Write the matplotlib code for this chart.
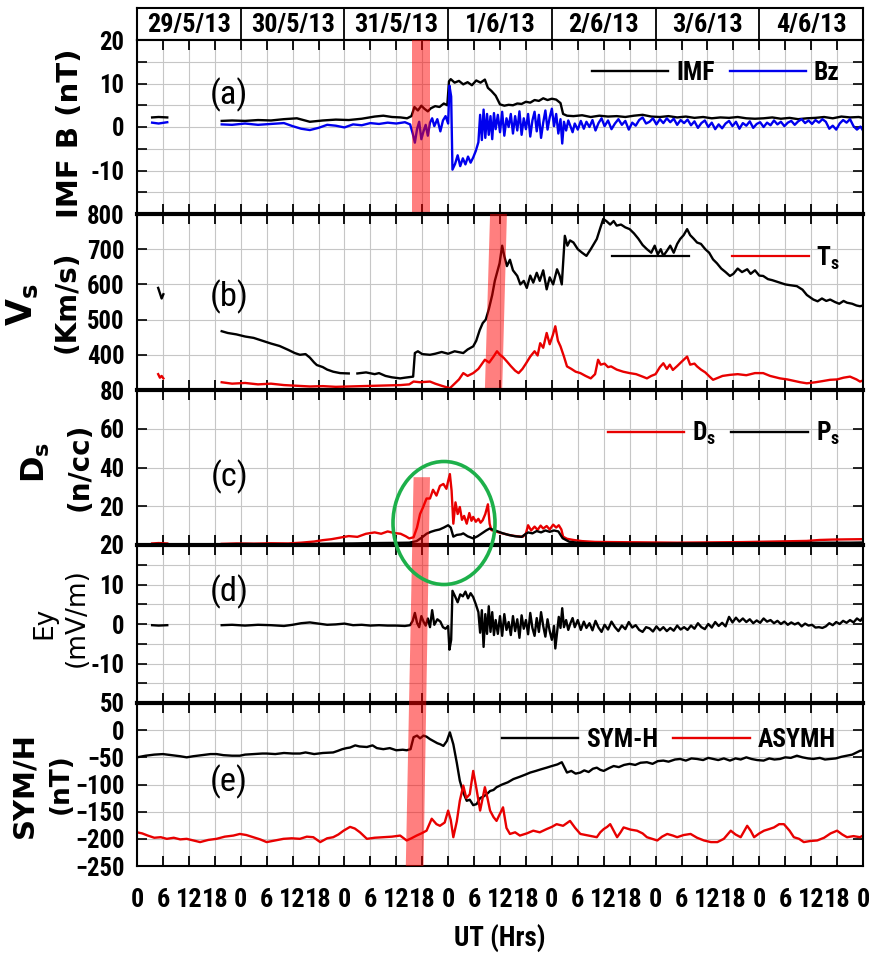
import numpy as np
import matplotlib
matplotlib.use("Agg")
import matplotlib.pyplot as plt
from matplotlib import font_manager as fm
from matplotlib.patches import Polygon, Ellipse
from matplotlib.lines import Line2D

# pick the narrowest sans family that is installed (reference uses a condensed bold face)
_avail = {f.name for f in fm.fontManager.ttflist}
FONT, FS = "DejaVu Sans", 0.85
for cand, k in [("Liberation Sans Narrow", 1.2), ("Roboto Condensed", 1.08), ("Liberation Sans", 1.0)]:
    if cand in _avail:
        FONT, FS = cand, k
        break

plt.rcParams['font.family'] = [FONT, 'DejaVu Sans']
plt.rcParams['font.weight'] = 'bold'
plt.rcParams['mathtext.fontset'] = 'custom'
plt.rcParams['mathtext.rm'] = FONT + ':bold'
plt.rcParams['mathtext.bf'] = FONT + ':bold'
plt.rcParams['mathtext.default'] = 'regular'

nan = np.nan
days = ["29/5/13", "30/5/13", "31/5/13", "1/6/13", "2/6/13", "3/6/13", "4/6/13"]

# ---- (a) IMF |B| and Bz (nT), time in hours from 29/5 00 UT
t_imf = [3.5, 5, 7, 7.1, 19.6, 22, 25, 28, 31, 34, 37, 40, 43, 46, 49, 52, 55, 57, 59, 61, 62.5, 63.5,
         64.2, 65, 65.8, 66.5, 67.3, 68, 69, 70, 71, 71.8, 72.2, 72.6, 73.5, 74.5, 75.5, 76.5, 77.5,
         78.5, 79.5, 80.5, 81.2, 82, 83, 84, 85, 86, 87, 88, 89, 90, 91, 92, 93, 94, 95, 96, 97, 98,
         98.6, 99.5, 101, 103, 105, 107, 109, 111, 113, 115, 117, 119, 121, 123, 125, 127, 129, 131,
         133, 135, 137, 139, 141, 143, 145, 147, 149, 151, 153, 155, 157, 159, 161, 163, 165, 167, 168]
imf = [2.2, 2.3, 2.2, nan, 1.4, 1.5, 1.4, 1.6, 1.5, 1.8, 2.0, 1.2, 1.5, 1.7, 1.6, 1.9, 2.4, 2.6, 2.3, 2.2,
       2.0, 2.5, 4.6, 3.8, 4.9, 4.2, 3.6, 4.3, 4.8, 4.6, 5.4, 5.0, 10.5, 11.0, 10.2, 10.6, 9.8, 10.3,
       9.6, 10.7, 10.2, 10.9, 9.0, 8.3, 7.2, 5.2, 4.9, 5.1, 5.0, 5.4, 5.3, 5.8, 5.6, 6.2, 6.0, 6.6, 6.2,
       6.5, 6.3, 5.5, 3.0, 2.6, 2.5, 2.7, 2.3, 2.6, 2.4, 2.5, 2.3, 2.6, 2.8, 2.4, 2.3, 2.5, 2.2, 2.4,
       2.1, 2.3, 2.0, 2.2, 2.1, 2.3, 2.0, 1.9, 2.0, 2.2, 1.9, 2.1, 1.8, 2.0, 2.1, 2.3, 2.0, 2.4, 2.2,
       2.3, 2.1]
t_bz = [3.5, 5, 7, 7.1, 19.6, 22, 25, 28, 31, 34, 36, 38, 40, 42, 44, 46, 48, 50, 52, 54, 56, 58, 60,
        62, 63.2, 63.8, 64.3, 64.8, 65.3, 65.8, 66.3, 66.8, 67.3, 67.8, 68.3, 68.8, 69.5, 70.2, 70.8,
        71.4, 72, 72.3, 72.7, 73.0, 73.6, 74.2, 74.8, 75.4, 76, 76.6, 77.2, 77.8, 78.4, 79, 79.4, 79.8,
        80.2, 80.6, 81, 81.4, 81.8, 82.2, 82.6, 83, 83.5, 84, 84.5, 85, 85.5, 86, 86.5, 87, 87.5, 88,
        88.5, 89, 89.5, 90, 90.5, 91, 91.5, 92, 92.5, 93, 93.5, 94, 94.5, 95, 95.5, 96, 96.5, 97, 97.5,
        98, 98.4, 98.8, 99.3, 99.8, 100.3, 100.8, 101.3, 102, 102.7, 103.4, 104, 104.7, 105.4, 106.1,
        106.8, 107.5, 108.2, 109, 109.8, 110.6, 111.4, 112.2, 113, 113.8, 114.6, 115.4, 116.2, 117,
        117.8, 118.6, 119.4, 120.2, 121, 121.8, 122.6, 123.4, 124.2, 125, 125.8, 126.6, 127.4, 128.2,
        129, 129.8, 130.6, 131.4, 132.2, 133, 133.8, 134.6, 135.4, 136.2, 137, 137.8, 138.6, 139.4,
        140.2, 141, 141.8, 142.6, 143.4, 144.2, 145, 145.8, 146.6, 147.4, 148.2, 149, 149.8, 150.6,
        151.4, 152.2, 153, 153.8, 154.6, 155.4, 156.2, 157, 157.8, 158.6, 159.4, 160.2, 161, 161.8,
        162.6, 163.4, 164.2, 165, 165.8, 166.6, 167.4, 168]
bz = [1.0, 0.8, 1.1, nan, 0.6, 0.5, 0.8, 0.5, 0.7, 0.9, 0.2, -0.4, -0.7, -0.2, 0.5, 0.3, -0.1, 0.6, 0.4,
      0.9, 0.7, 1.0, 0.8, 1.1, 0.6, -1.5, -3.6, -0.5, 1.2, -2.8, -1.0, 0.5, -2.0, 1.0, 2.0, 0.2, 1.8,
      -1.0, 1.5, 2.5, 0.8, 9.5, 7.0, -9.8, -8.5, -6.5, -9.0, -7.2, -8.6, -6.8, -8.2, -7.0, -5.5, -3.5,
      2.8, -3.0, 4.0, -2.5, 3.0, -1.8, 2.5, -2.8, 3.2, -0.5, 2.8, -1.2, 3.5, -2.0, 2.0, 0.0, 3.0, -1.5,
      2.5, -0.8, 3.6, -1.8, 2.0, -0.5, 3.0, -2.2, 1.5, 3.5, -1.0, 2.8, -2.5, 1.0, 3.8, -0.6, 2.2, 4.2,
      0.2, 3.0, -1.5, 1.8, -3.8, 1.2, -0.8, 1.5, 0.2, -1.2, 0.8, -0.6, 1.4, -0.4, 1.2, 0.0, 1.6, -0.8,
      0.9, 2.0, 0.2, 1.5, -0.5, 0.8, 1.8, 0.5, 1.4, -0.6, 1.0, 0.3, 1.6, 2.2, 0.8, 1.2, 2.0, 0.6, 1.8,
      0.9, 2.0, 1.1, 1.9, 0.5, 1.6, 0.9, 1.7, 0.4, 1.3, -0.2, 0.9, 1.5, 0.0, 1.0, -0.5, 0.6, -0.3, 0.8,
      1.4, 0.2, 1.2, -0.4, 0.9, 0.3, 1.3, -0.2, 0.7, 1.1, 0.0, 1.0, 0.4, 1.5, 0.6, 1.2, 0.2, 1.0, 1.4,
      0.5, 1.3, 1.8, 0.9, 1.5, 0.7, 1.6, 1.0, 1.8, 1.2, -0.4, 0.3, -0.6, 0.8, 1.6, 1.0, 1.8, 0.2, -0.6,
      0.1, -0.8]

# ---- (b) solar wind speed Vs (km/s) and temperature Ts (drawn on the Vs scale)
t_v = [4.9, 5.3, 5.7, 6.1, 6.2, 19.6, 21, 23, 25, 27, 29, 31, 33, 35, 36.5, 37.7, 39, 40, 41, 41.6, 43,
       44, 45.4, 47, 49, 49.5, 51, 53, 55, 56, 57.5, 59, 60.9, 62, 63.9, 64.3, 65, 66, 67.8, 69, 70.5,
       72, 73.5, 75.5, 76.5, 77.8, 78.5, 79.3, 80, 80.7, 81.4, 82.2, 82.8, 83.3, 83.9, 84.5, 85, 85.6,
       86.3, 87, 88, 88.7, 89.5, 90.2, 91, 91.7, 92.5, 93.2, 94, 94.8, 95.5, 96.3, 97.2, 97.8, 98.3, 99,
       99.6, 100.2, 101, 102, 103, 104, 105, 106.4, 107.2, 107.9, 108.6, 109.5, 110.3, 111, 112, 113,
       114, 115, 116, 117, 118, 119, 119.8, 120.5, 121.2, 121.8, 122.6, 123.4, 124.2, 125, 125.7,
       126.5, 127.3, 128, 128.8, 129.6, 130.5, 131.5, 132.4, 133.3, 134.2, 135.2, 136.2, 137.2, 138,
       139, 140, 141.2, 142, 143, 144, 144.9, 146, 147, 148, 148.8, 150, 151, 152.7, 154, 155, 156.5,
       157.5, 158.5, 159.5, 160.4, 161.5, 162.5, 163.5, 164.3, 165.5, 166.5, 167.3, 168]
vs = [590, 575, 560, 572, nan, 467, 462, 458, 452, 448, 440, 432, 425, 414, 405, 400, 402, 392, 378, 371,
      365, 358, 352, 348, 347, nan, 347, 350, 345, 348, 340, 336, 333, 335, 338, 405, 410, 402, 400, 403,
      408, 403, 410, 405, 415, 424, 440, 470, 490, 500, 529, 570, 610, 633, 660, 710, 680, 652, 670, 640,
      624, 600, 610, 590, 625, 605, 633, 610, 640, 586, 620, 600, 643, 625, 600, 738, 710, 725, 719, 700,
      690, 681, 700, 729, 760, 786, 780, 770, 780, 767, 770, 762, 757, 745, 730, 712, 700, 690, 710, 685,
      700, 681, 695, 710, 690, 715, 729, 740, 757, 740, 730, 719, 715, 700, 690, 671, 660, 645, 635, 624,
      630, 645, 635, 643, 630, 640, 625, 624, 615, 612, 608, 605, 600, 598, 595, 585, 570, 557, 552, 560,
      553, 557, 550, 545, 553, 548, 545, 540, 538, 540]
t_ts = [4.9, 5.3, 5.7, 6.1, 6.2, 19.6, 22, 25, 28, 31, 34, 37, 40, 43, 46, 49, 52, 55, 58, 61, 63, 64,
        65.5, 67.8, 69, 70.5, 72.4, 73.5, 74.5, 75.5, 76.5, 77.8, 79, 80.5, 81.5, 82.5, 83.3, 84, 84.8,
        85.6, 86.5, 87.5, 88.3, 89.2, 90, 91, 92, 92.7, 93.3, 94, 94.8, 95.5, 96.2, 96.8, 97.4, 98,
        98.8, 99.5, 100.5, 101.5, 102.6, 103.8, 105, 106, 106.7, 107.3, 108.2, 109, 109.7, 111, 112.5,
        114, 115.5, 117, 118, 119, 120, 121, 121.8, 122.6, 123.3, 124, 125, 126, 127.3, 128, 129, 129.6,
        130.5, 131.5, 132.5, 133.3, 134.5, 135.5, 137.2, 139, 141, 143, 144.9, 146.5, 148.8, 150.5, 152,
        153.5, 155, 157, 158.5, 160.4, 162, 163.5, 165, 166.5, 167.3, 168]
ts = [345, 335, 340, 333, nan, 322, 318, 320, 316, 318, 314, 312, 310, 311, 309, 310, 311, 312, 313, 314,
      316, 324, 322, 324, 318, 312, 305, 318, 330, 348, 340, 348, 360, 386, 378, 395, 410, 400, 392, 381,
      368, 355, 348, 360, 375, 395, 410, 398, 433, 420, 462, 430, 455, 481, 440, 424, 395, 367, 360, 352,
      348, 340, 333, 345, 386, 372, 375, 365, 367, 358, 352, 348, 345, 338, 333, 340, 345, 365, 376, 360,
      372, 357, 368, 380, 395, 372, 375, 367, 358, 350, 338, 329, 335, 340, 343, 345, 342, 348, 348, 340,
      333, 330, 326, 322, 319, 322, 325, 329, 330, 335, 338, 330, 324, 327]

# ---- (c) density Ds (n/cc) and dynamic pressure Ps
t_ds = [3.5, 5, 7, 7.1, 19.6, 23, 27, 31, 35, 38, 41, 43, 45, 47, 49, 51, 53, 55, 56.5, 58, 59.5, 61, 62.2,
        63, 64, 64.8, 65.5, 66.2, 67, 67.8, 68.5, 69.3, 70.1, 70.9, 71.6, 72.0, 72.4, 72.8, 73.2, 73.7,
        74.2, 74.7, 75.2, 75.7, 76.3, 76.9, 77.4, 77.8, 78.4, 79, 79.5, 80, 80.6, 81.2, 81.6, 82, 83, 84,
        85, 86, 87, 88, 89.3, 90, 90.5, 91.2, 92, 92.7, 93.4, 94, 94.8, 95.5, 96.3, 97, 97.6, 98.2, 98.6,
        99.5, 101, 103, 106, 110, 115, 120, 125, 130, 135, 140, 145, 150, 155, 158, 161, 164, 168]
ds = [0.8, 1.0, 0.8, nan, 0.6, 0.8, 0.7, 0.9, 0.8, 1.2, 1.8, 2.5, 3.0, 3.8, 4.6, 4.2, 5.8, 6.5, 5.8, 7.0,
      6.2, 5.8, 4.5, 3.4, 4.0, 9.0, 16.0, 19.5, 24.0, 24.0, 28.5, 25.5, 30.5, 31.5, 29.0, 33.0, 36.6, 28.0,
      11.0, 22.0, 16.0, 19.6, 13.0, 15.0, 11.0, 16.5, 12.5, 14.5, 12.0, 13.5, 11.5, 12.8, 16.0, 21.0, 11.0,
      7.7, 7.0, 6.3, 5.8, 5.2, 4.8, 4.5, 4.3, 6.0, 10.2, 7.5, 9.5, 7.8, 10.0, 8.5, 9.8, 8.0, 10.5, 9.0,
      10.2, 8.0, 4.3, 3.2, 2.6, 2.0, 1.6, 1.5, 1.4, 1.3, 1.2, 1.3, 1.4, 1.5, 1.7, 1.9, 2.1, 2.6, 2.8, 2.9,
      3.0]
t_ps = [3.5, 5, 7, 7.1, 19.6, 25, 30, 35, 40, 45, 50, 55, 60, 63, 64.7, 66, 67, 68, 69, 70, 71, 72, 72.6,
        73.2, 74, 75, 75.5, 76.5, 77.8, 78.8, 79.8, 80.8, 81.6, 82.5, 83.5, 84.7, 86, 87.5, 89, 90.5, 91.5,
        92.5, 93.5, 94.5, 95.5, 96.5, 97.5, 98.5, 100, 102, 105, 110, 115, 120, 125, 130, 135, 140, 145,
        150, 155, 160, 165, 168]
ps = [0.4, 0.5, 0.4, nan, 0.4, 0.5, 0.4, 0.4, 0.5, 0.7, 0.8, 1.0, 1.1, 1.2, 2.0, 4.0, 5.8, 6.8, 7.5, 8.0,
      9.0, 10.2, 9.0, 4.3, 5.2, 5.5, 6.0, 4.5, 3.4, 4.5, 6.0, 7.5, 8.5, 7.8, 7.0, 6.0, 5.2, 4.5, 4.2, 6.5,
      6.0, 7.2, 6.5, 7.5, 6.8, 7.5, 7.0, 3.5, 1.7, 1.2, 0.9, 0.8, 0.7, 0.7, 0.8, 0.8, 0.9, 0.9, 1.0, 1.0,
      1.1, 1.2, 1.2, 1.3]

# ---- (d) interplanetary electric field Ey (mV/m)
t_ey = [3.5, 5, 7, 7.1, 19.6, 22, 25, 28, 31, 34, 36, 38, 40, 42, 44, 46, 48, 50, 52, 54, 56, 58, 60, 62,
        63.2, 63.8, 64.3, 64.8, 65.3, 65.8, 66.3, 66.8, 67.3, 67.8, 68.3, 68.8, 69.5, 70.2, 70.8, 71.4,
        72, 72.3, 72.7, 73.0, 73.6, 74.2, 74.8, 75.4, 76, 76.6, 77.2, 77.8, 78.4, 79, 79.4, 79.8, 80.2,
        80.6, 81, 81.4, 81.8, 82.2, 82.6, 83, 83.5, 84, 84.5, 85, 85.5, 86, 86.5, 87, 87.5, 88, 88.5, 89,
        89.5, 90, 90.5, 91, 91.5, 92, 92.5, 93, 93.5, 94, 94.5, 95, 95.5, 96, 96.5, 96.8, 97.2, 97.6, 98,
        98.4, 98.8, 99.3, 99.8, 100.3, 100.8, 101.3, 102, 102.7, 103.4, 104, 104.7, 105.4, 106.1, 106.8,
        107.5, 108.2, 109, 109.8, 110.6, 111.4, 112.2, 113, 113.8, 114.6, 115.4, 116.2, 117, 117.8,
        118.6, 119.4, 120.2, 121, 121.8, 122.6, 123.4, 124.2, 125, 125.8, 126.6, 127.4, 128.2, 129,
        129.8, 130.6, 131.4, 132.2, 133, 133.8, 134.6, 135.4, 136.2, 137, 137.8, 138.6, 139.4, 140.2,
        141, 141.8, 142.6, 143.4, 144.2, 145, 145.8, 146.6, 147.4, 148.2, 149, 149.8, 150.6, 151.4,
        152.2, 153, 153.8, 154.6, 155.4, 156.2, 157, 157.8, 158.6, 159.4, 160.2, 161, 161.8, 162.6,
        163.4, 164.2, 165, 165.8, 166.6, 167.4, 168]
ey = [-0.3, -0.4, -0.3, nan, -0.3, -0.2, -0.4, -0.2, -0.3, -0.5, -0.2, 0.2, 0.4, 0.1, -0.2, -0.1, 0.1,
      -0.3, -0.2, -0.4, -0.3, -0.4, -0.4, -0.5, -0.3, 0.8, 2.8, 0.3, -0.8, 2.0, 0.6, -0.4, 1.4, -0.8, 3.5,
      -0.2, 1.2, 0.6, -0.8, -1.2, -0.5, -6.5, -4.0, 8.4, 7.0, 5.5, 7.5, 7.0, 8.2, 6.5, 7.8, 6.8, 5.0, 3.0,
      -2.2, 3.5, -5.8, 2.5, -2.5, 4.5, -2.0, 3.0, -2.8, 1.0, -2.5, 2.0, -3.0, 2.5, -1.5, 0.5, -2.8, 2.0,
      -1.8, 1.2, -3.5, 2.2, -1.2, 1.0, -2.6, 2.8, -1.0, -3.0, 1.5, -2.0, 3.0, -0.5, -3.2, 1.2, -1.8, -4.0,
      -0.5, -6.2, -2.2, 1.8, -1.0, 4.0, -0.8, 1.0, -1.5, 0.2, 1.5, -0.8, 1.0, -1.5, 0.6, -1.0, 0.2, -1.6,
      0.8, -0.9, -2.0, -0.2, -1.4, 0.6, -0.8, -1.8, -0.4, -1.3, 0.5, -0.9, -0.3, -1.5, -2.0, -0.8, -1.1,
      -1.9, -0.6, -1.6, -0.8, -1.8, -1.0, -1.7, -0.4, -1.4, -0.8, -1.5, -0.4, -1.2, 0.2, -0.8, -1.3, 0.0,
      -0.9, 0.5, -0.5, 0.3, -0.6, 1.8, 0.4, 1.6, 0.6, 1.4, 0.5, 1.2, 0.2, 0.9, 0.3, 1.4, 0.6, 1.0, 0.2,
      0.8, 0.0, 0.6, -0.2, 0.4, -0.1, 0.3, -0.6, 0.1, -0.4, -0.2, -0.9, -0.8, -1.0, -0.6, 0.2, -0.3, 0.5,
      0.0, 0.8, 0.3, 1.0, 0.4, 1.4, 0.8, 1.7]

# ---- (e) SYM-H and ASY-H (nT)
t_sym = [0, 2, 4, 6, 8, 10, 11.5, 13, 15, 17, 18.4, 20, 22, 23.8, 25, 27, 29, 30, 32, 34, 36, 37.7, 39, 41,
         43, 45.4, 46.5, 47.5, 48.5, 49.3, 50.5, 51.5, 53.2, 54.5, 55.5, 57, 58.5, 60, 61.5, 62.4, 63.3, 64,
         64.8, 65.5, 66.3, 67, 67.8, 68.6, 69.5, 70.2, 70.9, 71.7, 72.4, 72.8, 73.2, 74, 74.7, 75.5, 76.3,
         77, 77.8, 78.6, 79.4, 80.2, 80.9, 81.7, 82.5, 83.2, 84.5, 85.8, 87.1, 88.5, 89.8, 91, 92.3, 93.5,
         94.8, 96, 97.3, 98.3, 99, 99.5, 100.5, 101.5, 102.6, 103.5, 104.5, 105.5, 106.4, 107.2, 108,
         109.2, 110.3, 111.5, 112.7, 114, 115.3, 116.5, 118, 119.3, 120.5, 121.8, 123, 124.5, 125.7, 127,
         128.3, 129.6, 131, 132.2, 133.3, 134.5, 135.8, 137.2, 138.5, 139.7, 141, 142.2, 143.5, 145,
         146.3, 147.5, 148.8, 150, 151.3, 152.7, 154, 155.3, 156.5, 158, 159.2, 160.4, 161.7, 163, 164.3,
         165.5, 166.5, 167.3, 168]
symh = [-50, -47, -45, -44, -46, -48, -50, -48, -46, -44, -44, -46, -47, -47, -45, -44, -43, -43, -44, -42,
        -43, -43, -41, -44, -42, -41, -38, -35, -33, -32, -28, -30, -31, -28, -33, -35, -33, -37, -36, -37,
        -35, -13, -10, -15, -10, -12, -16.5, -20, -24, -26, -29, -20, -4, -15, -26, -60, -93, -115, -130,
        -128, -138, -136, -125, -122, -118, -112, -110, -105, -100, -96, -90, -86, -82, -78, -75, -72, -69,
        -66, -63, -59, -70, -78, -75, -80, -78, -74, -77, -71, -69, -73, -75, -70, -66, -68, -64, -62, -64,
        -60, -59, -62, -57, -56, -58, -54, -53, -56, -52, -53, -55, -51, -53, -55, -52, -56, -52, -54, -50,
        -53, -55, -56, -52, -54, -53, -50, -51, -47, -50, -52, -53, -51, -54, -53, -52, -49, -47, -45, -41,
        -38, -37]
t_asy = [0, 1.2, 2.5, 4, 5.5, 6.9, 8.5, 10, 11.5, 13,
         14.6, 16.5, 18.4, 20.3, 22.3, 23.8, 25.3, 26.9, 28.5, 30,
         32, 33.9, 35.8, 37.7, 39.3, 40.8, 42.4, 44, 45.4, 46.6,
         47.8, 49.3, 50.4, 51.6, 53.2, 55, 57, 59, 60.9, 62.4,
         63.5, 64.7, 65.8, 67, 68.2, 69.3, 70.1, 71.2, 72, 72.6,
         73.2, 74, 74.7, 75.5, 76.2, 77, 77.8, 78.6, 79.4, 80.5,
         81.1, 81.7, 82.5, 83.2, 84.7, 85.5, 86.3, 87.5, 88.6, 90.2,
         91.7, 93.2, 94.8, 96, 97.1, 98.6, 100.2, 101.4, 102.6, 104.5,
         106.4, 107.2, 108, 108.8, 109.5, 110.3, 111.1, 111.9, 112.6, 114.2,
         115.7, 117, 118, 119.2, 120.4, 121.5, 122.7, 124, 125, 126.5,
         128.1, 129.6, 131.2, 132.8, 134.3, 135.8, 137.4, 138.5, 139.7, 140.5,
         141.2, 142, 142.8, 144, 145.1, 146.3, 147.4, 148.6, 149.7, 151,
         152, 153.2, 154.3, 155.8, 157.4, 159, 160.5, 162, 163.2, 164.3,
         165.8, 167.3, 168]
asyh = [-188, -190, -194, -198, -197, -200, -198, -201, -200, -203,
        -206, -202, -200, -196, -194, -191, -193, -197, -201, -206,
        -203, -200, -199, -200, -196, -197, -206, -199, -197, -192,
        -185, -178, -181, -188, -200, -198, -197, -196, -194, -203,
        -199, -194, -190, -185, -163, -173, -176, -170, -148, -165,
        -197, -168, -130, -102, -125, -118, -75, -110, -148, -105,
        -125, -148, -160, -167, -142, -180, -191, -188, -194, -190,
        -185, -188, -182, -178, -173, -176, -167, -180, -191, -194,
        -197, -188, -182, -178, -173, -185, -197, -188, -179, -183,
        -185, -190, -197, -200, -203, -196, -191, -194, -197, -193,
        -191, -198, -203, -206, -206, -200, -185, -192, -197, -186,
        -176, -185, -197, -190, -185, -182, -179, -173, -173, -185,
        -197, -200, -206, -204, -203, -198, -190, -185, -192, -197,
        -195, -197, -194]

# ---- highlighted intervals (hours) and annotation
band_a = (63.6, 67.8)
band_b = [(80.5, 300), (84.5, 300), (85.6, 800), (81.7, 800)]
band_ce_top = (64.0, 67.8, 35)      # in panel (c): x0, x1, y
band_ce_bot = (62.2, 66.3, -250)    # in panel (e)

W, H = 872, 961
fig = plt.figure(figsize=(W / 100, H / 100), dpi=100)


def box(x0, y0, x1, y1):
    return [x0 / W, 1 - y1 / H, (x1 - x0) / W, (y1 - y0) / H]


L, R = 137, 863
GRID = "#c6c6c6"
xtick_fs = 17.5 * FS
ytick_fs = 16.5 * FS

axh = fig.add_axes(box(L, 8, R, 40))
axa = fig.add_axes(box(L, 40, R, 214))
axb = fig.add_axes(box(L, 214, R, 390))
axc = fig.add_axes(box(L, 390, R, 545))
axd = fig.add_axes(box(L, 545, R, 703))
axe = fig.add_axes(box(L, 703, R, 866))

# header with dates
axh.set_xlim(0, 168); axh.set_ylim(0, 1)
axh.set_xticks([]); axh.set_yticks([])
for k, d in enumerate(days):
    if k:
        axh.axvline(24 * k, color="k", lw=1.3)
    axh.text(24 * k + 12, 0.47, d, ha="center", va="center", fontsize=17.5 * FS, weight="bold")
for s in axh.spines.values():
    s.set_linewidth(1.5)

panels = [axa, axb, axc, axd, axe]
xt = np.arange(0, 169, 6)
for i, ax in enumerate(panels):
    ax.set_xlim(0, 168)
    ax.set_xticks(xt)
    ax.tick_params(axis="x", which="both", direction="in", top=True, bottom=True, length=7, width=1.3,
                   labelbottom=(ax is axe), labelsize=xtick_fs, pad=16)
    ax.tick_params(axis="y", which="both", direction="in", left=True, right=True, length=7, width=1.2,
                   labelsize=ytick_fs, pad=9)
    ax.grid(True, which="both", color=GRID, lw=0.8)
    ax.set_axisbelow(True)
    for s in ax.spines.values():
        s.set_linewidth(1.5)
    if i:
        ax.spines["top"].set_linewidth(3)

lw = 1.7
leg = dict(loc="center right", frameon=False, ncol=2, fontsize=17 * FS, handlelength=3.0,
           handletextpad=0.3, columnspacing=0.6, borderaxespad=0, borderpad=0)
# (a)
axa.plot(t_imf, imf, color="k", lw=lw, label="IMF")
axa.plot(t_bz, bz, color="#0000ee", lw=lw, label="Bz")
axa.set_ylim(-20, 20)
axa.set_yticks([-20, -10, 0, 10, 20]); axa.set_yticklabels(["", "-10", "0", "10", "20"])
axa.set_yticks([-15, -5, 5, 15], minor=True)
axa.axvspan(*band_a, color="red", alpha=0.5, lw=0, zorder=5)
axa.legend(bbox_to_anchor=(0.968, 0.81), **leg)

# (b)
axb.plot(t_v, vs, color="k", lw=lw)
axb.plot(t_ts, ts, color="#e80000", lw=lw)
axb.set_ylim(300, 800)
axb.set_yticks(np.arange(300, 801, 100)); axb.set_yticklabels(["", "400", "500", "600", "700", "800"])
axb.tick_params(axis="y", right=False)
axb.add_patch(Polygon(band_b, closed=True, color="red", alpha=0.5, lw=0, zorder=5))
hb = [Line2D([], [], color="k", lw=1.6), Line2D([], [], color="#e80000", lw=1.6)]
leg_b = dict(leg, columnspacing=1.4)
axb.legend(hb, ["", "T$_s$"], bbox_to_anchor=(0.968, 0.75), **leg_b)

# (c)
axc.plot(t_ds, ds, color="#e80000", lw=lw, label="D$_s$")
axc.plot(t_ps, ps, color="k", lw=lw, label="P$_s$")
axc.set_ylim(0, 80)
axc.set_yticks([0, 20, 40, 60, 80]); axc.set_yticklabels(["", "20", "40", "60", "80"])
axc.legend(bbox_to_anchor=(0.968, 0.72), **leg)

# (d)
axd.plot(t_ey, ey, color="k", lw=lw)
axd.set_ylim(-20, 20)
axd.set_yticks([-20, -10, 0, 10, 20]); axd.set_yticklabels(["", "-10", "0", "10", "20"])
axd.set_yticks([-15, -5, 5, 15], minor=True)

# (e)
axe.plot(t_sym, symh, color="k", lw=lw, label="SYM-H")
axe.plot(t_asy, asyh, color="#e80000", lw=lw, label="ASYMH")
axe.set_ylim(-250, 50)
axe.set_yticks(np.arange(-250, 51, 50))
axe.set_xticklabels([str(int(h % 24)) for h in xt])
axe.legend(bbox_to_anchor=(0.962, 0.775), **leg)
axe.set_xlabel("UT (Hrs)", fontsize=18 * FS, weight="bold", labelpad=9)

# slanted band through panels (c)-(e)
to_fig = fig.transFigure.inverted()
x0, x1, yt = band_ce_top
p_tl = to_fig.transform(axc.transData.transform((x0, yt)))
p_tr = to_fig.transform(axc.transData.transform((x1, yt)))
x0, x1, yb = band_ce_bot
p_bl = to_fig.transform(axe.transData.transform((x0, yb)))
p_br = to_fig.transform(axe.transData.transform((x1, yb)))
fig.patches.append(Polygon([p_bl, p_br, p_tr, p_tl], closed=True, transform=fig.transFigure,
                           color="red", alpha=0.5, lw=0, zorder=5))

# green ellipse around the density enhancement
fig.patches.append(Ellipse((444 / W, 1 - 523 / H), 102 / W, 123 / H, transform=fig.transFigure,
                           fill=False, edgecolor="#1db04a", lw=2.6, zorder=6))

# panel tags
for ax, tag, yy in [(axa, "(a)", 0.684), (axb, "(b)", 0.528), (axc, "(c)", 0.439),
                    (axd, "(d)", 0.703), (axe, "(e)", 0.515)]:
    ax.text(0.127, yy, tag, transform=ax.transAxes, ha="center", va="center", fontsize=23 * FS,
            weight="normal")

# y-axis labels (stretched look of the original -> wider DejaVu face when rotated)
yl = dict(rotation=90, ha="center", va="center", family=["DejaVu Sans"], weight="bold")
yn = dict(rotation=90, ha="center", va="center", family=["DejaVu Sans"], weight="normal")
fig.text(70 / W, 1 - 133 / H, "IMF B (nT)", fontsize=21, **yl)
fig.text(22 / W, 1 - 305 / H, "V$_s$", fontsize=25, **yl)
fig.text(67 / W, 1 - 302 / H, "(Km/s)", fontsize=20, **yl)
fig.text(36 / W, 1 - 462 / H, "D$_s$", fontsize=23, **yl)
fig.text(80 / W, 1 - 467 / H, "(n/cc)", fontsize=20, **yl)
fig.text(44 / W, 1 - 623 / H, "Ey", fontsize=19, **yn)
fig.text(77 / W, 1 - 618 / H, "(mV/m)", fontsize=19, **yn)
fig.text(24 / W, 1 - 785 / H, "SYM/H", fontsize=21, **yl)
fig.text(61 / W, 1 - 784 / H, "(nT)", fontsize=19, **yl)

fig.savefig("out.png", dpi=100)
